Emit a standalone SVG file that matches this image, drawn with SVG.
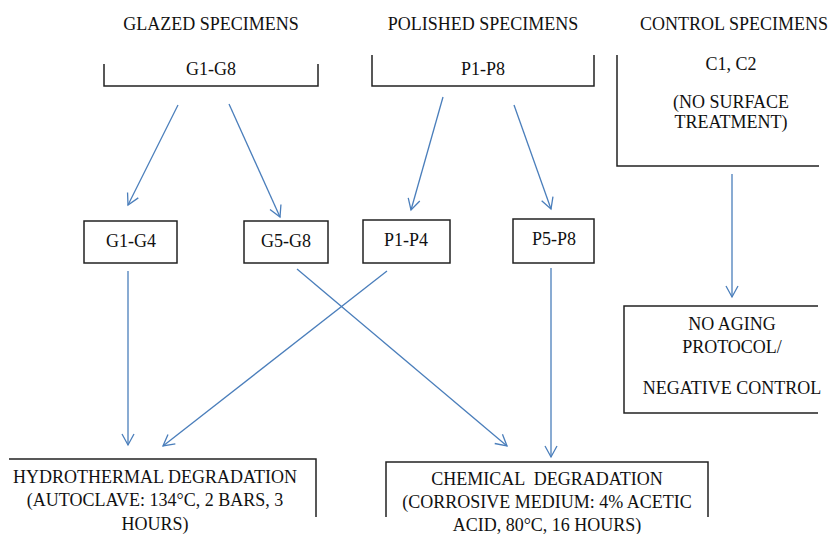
<svg xmlns="http://www.w3.org/2000/svg" width="830" height="534" viewBox="0 0 830 534">
<defs>
<style>
text{font-size:18px;fill:#111;text-anchor:middle}
.box{fill:none;stroke:#222;stroke-width:1.5}
.c{fill:none;stroke:#4a7ebb;stroke-width:1.3;marker-end:url(#ah)}
</style>
<marker id="ah" markerUnits="userSpaceOnUse" markerWidth="14" markerHeight="14" viewBox="0 0 14 14" refX="12" refY="7" orient="auto">
<path d="M1,1 L12,7 L1,13" fill="none" stroke="#4a7ebb" stroke-width="1.3"/>
</marker>
</defs>
<rect width="830" height="534" fill="#fff"/>
<g font-family="'Liberation Serif', 'DejaVu Serif', serif">
<g id="headers">
<text x="211" y="30">GLAZED SPECIMENS</text>
<text x="483" y="30">POLISHED SPECIMENS</text>
<text x="734" y="30">CONTROL SPECIMENS</text>
</g>
<g id="g1g8">
<path class="box" d="M104,64 V86 H318 V64"/>
<text x="211" y="75">G1-G8</text>
</g>
<g id="p1p8">
<path class="box" d="M372,55 V86 H594 V55"/>
<text x="483" y="75">P1-P8</text>
</g>
<g id="control">
<path class="box" d="M617,55 V166 H819"/>
<text x="731" y="70">C1, C2</text>
<text x="731" y="108">(NO SURFACE</text>
<text x="731" y="128">TREATMENT)</text>
</g>
<g id="g1g4">
<rect class="box" x="84" y="221" width="93" height="42"/>
<text x="131" y="247">G1-G4</text>
</g>
<g id="g5g8">
<rect class="box" x="244" y="221" width="84" height="42"/>
<text x="286" y="247">G5-G8</text>
</g>
<g id="p1p4">
<rect class="box" x="363" y="220" width="87" height="43"/>
<text x="406" y="246">P1-P4</text>
</g>
<g id="p5p8">
<rect class="box" x="513" y="219" width="81" height="44"/>
<text x="554" y="245">P5-P8</text>
</g>
<g id="noaging">
<path class="box" d="M818,306 H624 V413 H818"/>
<text x="732" y="330">NO AGING</text>
<text x="732" y="353">PROTOCOL/</text>
<text x="732" y="394">NEGATIVE CONTROL</text>
</g>
<g id="hydro">
<path class="box" d="M9,459 H316 V517"/>
<text x="155" y="483">HYDROTHERMAL DEGRADATION</text>
<text x="155" y="506">(AUTOCLAVE: 134°C, 2 BARS, 3</text>
<text x="155" y="530">HOURS)</text>
</g>
<g id="chem">
<path class="box" d="M386,517 V462 H708 V517"/>
<text x="547" y="485" xml:space="preserve">CHEMICAL  DEGRADATION</text>
<text x="547" y="508">(CORROSIVE MEDIUM: 4% ACETIC</text>
<text x="547" y="531">ACID, 80°C, 16 HOURS)</text>
</g>
</g>
<g id="connectors">
<line class="c" x1="178" y1="105" x2="128" y2="205"/>
<line class="c" x1="229" y1="104" x2="280" y2="217"/>
<line class="c" x1="443" y1="97" x2="411" y2="210"/>
<line class="c" x1="514" y1="105" x2="551" y2="209"/>
<line class="c" x1="732" y1="174" x2="732" y2="297"/>
<line class="c" x1="128" y1="271" x2="128" y2="445"/>
<line class="c" x1="387" y1="271" x2="163" y2="446"/>
<line class="c" x1="297" y1="269" x2="507" y2="446"/>
<line class="c" x1="551" y1="268" x2="551" y2="457"/>
</g>
</svg>
